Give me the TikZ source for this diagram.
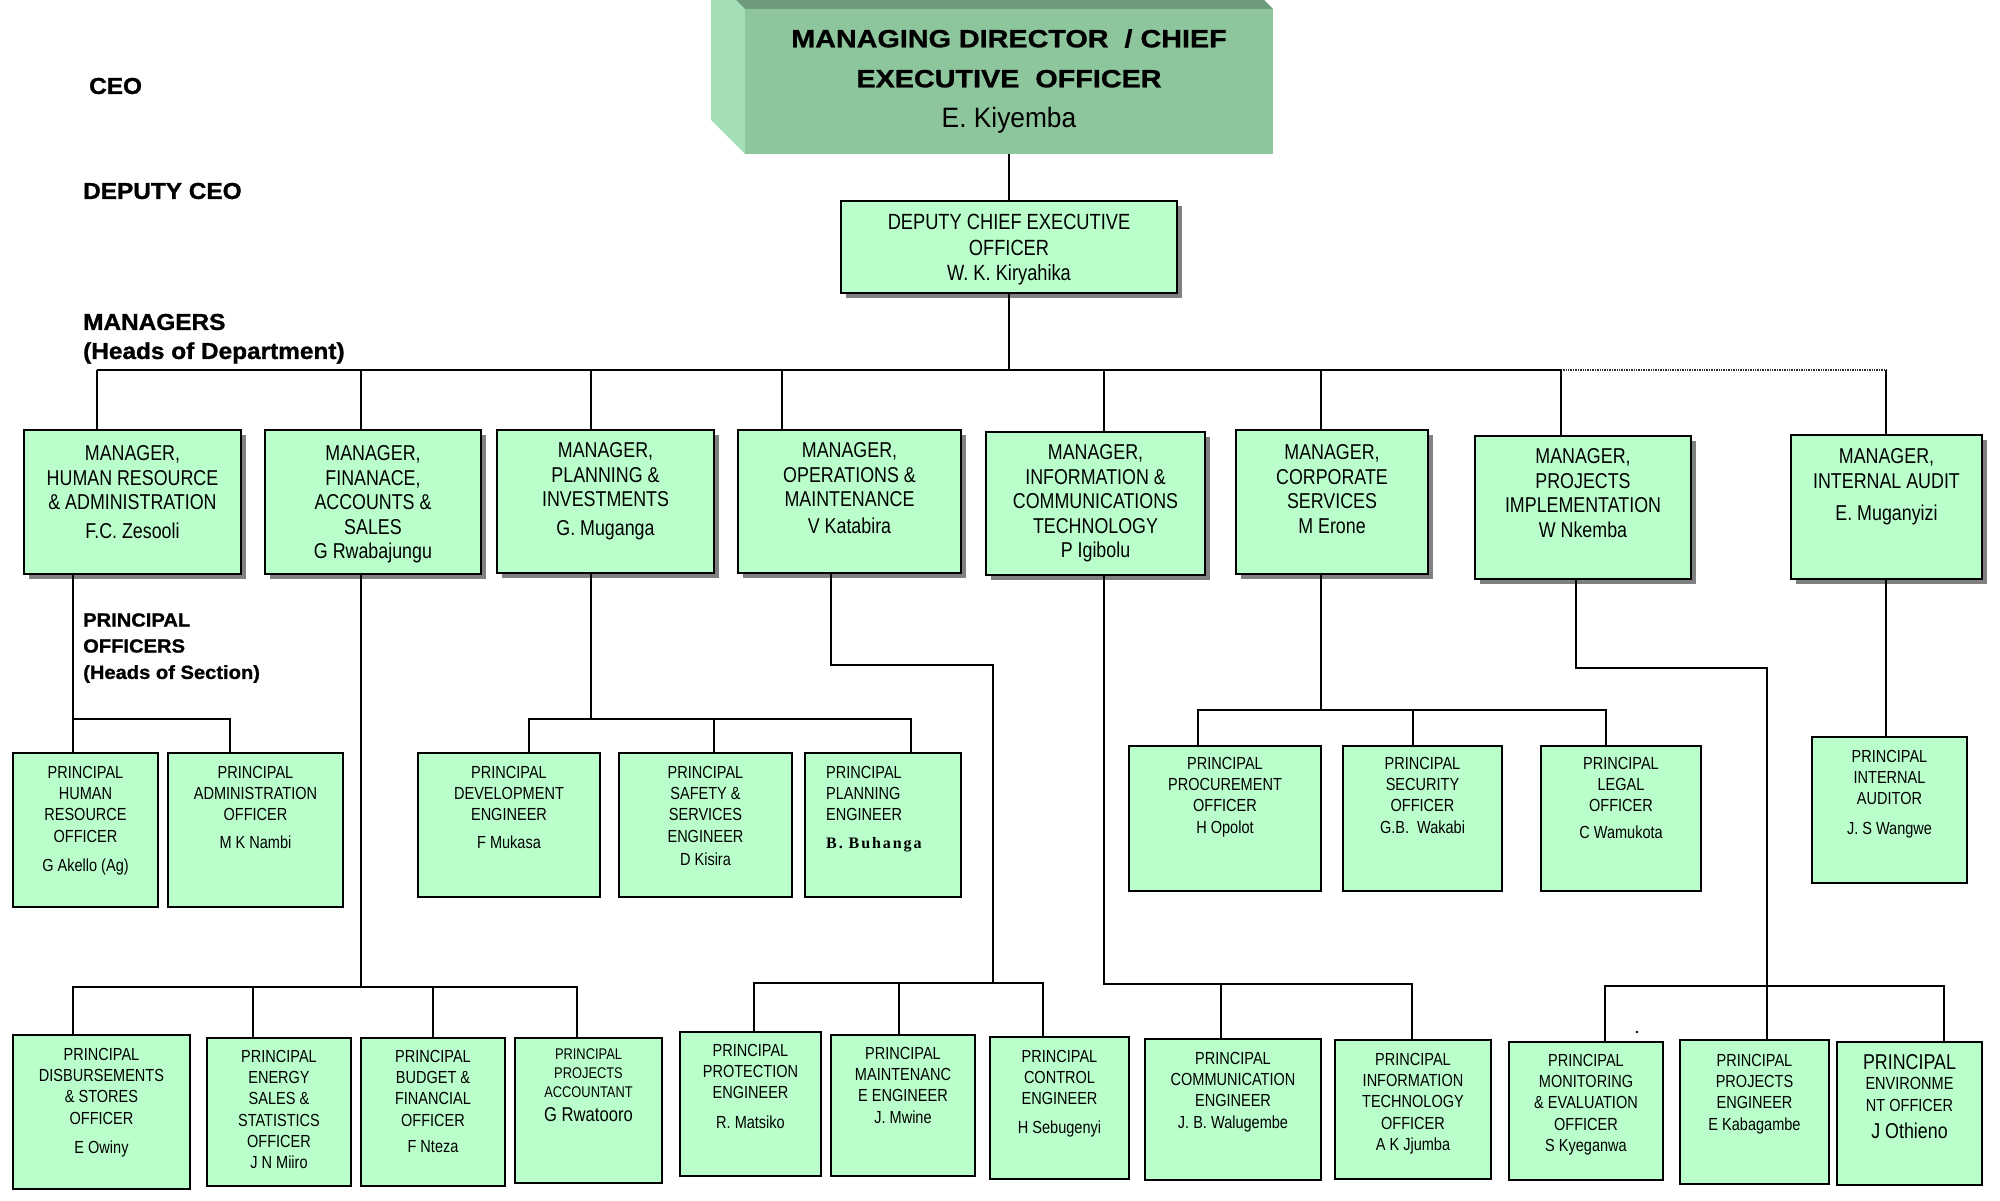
\documentclass[tikz,border=0pt]{standalone}
\usepackage{fontspec}
\setmainfont{Liberation Sans}[FakeStretch=0.83]
\newfontfamily\hdfont{Liberation Sans}[FakeStretch=1.06, BoldFeatures={FakeBold=1.2}]
\newfontfamily\mdfont{Liberation Sans}[FakeStretch=1.15, BoldFeatures={FakeBold=1.0}]
\newfontfamily\mdname{Liberation Sans}[FakeStretch=0.94]
\newfontfamily\tbf{Liberation Serif}[LetterSpace=12]
\usetikzlibrary{shadows}
\definecolor{boxg}{RGB}{186,255,203}
\definecolor{mdfront}{RGB}{141,197,156}
\definecolor{mdleft}{RGB}{164,222,180}
\definecolor{mdtop}{RGB}{110,155,123}
\newcommand\obox[6]{\node[#6, minimum width={#4-#2}, minimum height={#5-#3}] (#1) at ({(#2+#4)/2},{(#3+#5)/2}) {};}
\tikzset{
  mbox/.style={draw=black, line width=2.2pt, fill=boxg, inner sep=0pt,
    drop shadow={shadow xshift=5pt, shadow yshift=-5pt, fill=black!50, opacity=1}},
  pbox/.style={draw=black, line width=2pt, fill=boxg, inner sep=0pt},
  mt/.style={anchor=north, align=center, inner sep=0pt, font={\fontsize{21.5}{24.5}\selectfont}},
  pt/.style={anchor=north, align=center, inner sep=0pt, font={\fontsize{17.5}{21.3}\selectfont}},
  hd/.style={anchor=west, inner sep=0pt, font={\hdfont\bfseries\fontsize{23}{27}\selectfont}},
  hds/.style={anchor=west, inner sep=0pt, font={\hdfont\bfseries\fontsize{19}{22}\selectfont}},
  con/.style={line width=1.8pt},
  busline/.style={line width=2.4pt},
  dotbus/.style={line width=2.6pt, black!80, dash pattern=on 1pt off 0.7pt},
}
\begin{document}
\begin{tikzpicture}[x=1pt,y=-1pt]
\useasboundingbox (0,0) rectangle (2000,1200);

% ---- MD 3D box ----
\begin{scope}
\clip (0,0) rectangle (2000,1200);
\fill[mdleft] (745,9) -- (711,-25) -- (711,120) -- (745,154) -- cycle;
\fill[mdtop] (745,9) -- (711,-25) -- (1239,-25) -- (1273,9) -- cycle;
\end{scope}
\node[fill=mdfront, minimum width=528, minimum height=145, inner sep=0pt] (md) at (1009,81.5) {};
\node[anchor=north, align=center, inner sep=0pt, font={\mdfont\bfseries\fontsize{25}{40}\selectfont}] (mdt) at (1009,29)
  {MANAGING DIRECTOR~~/ CHIEF\\EXECUTIVE~~OFFICER\\{\mdname\mdseries\fontsize{28}{40}\selectfont E. Kiyemba}};

% ---- left headings ----
\node[hd] (l-ceo) at (89,86) {CEO};
\node[hd] (l-dceo) at (83,191) {DEPUTY CEO};
\node[hd] (l-man) at (83,322) {MANAGERS};
\node[hd] (l-mand) at (83,353) {(Heads of Department)};
\node[hds] (l-p1) at (83,620) {PRINCIPAL};
\node[hds] (l-p2) at (83,646) {OFFICERS};
\node[hds] (l-p3) at (83,674) {(Heads of Section)};

% ---- boxes ----
\obox{dceo}{841}{201}{1177}{293}{mbox}
\obox{hr}{24}{430}{241}{574}{mbox}
\obox{fin}{265}{430}{481}{574}{mbox}
\obox{plan}{497}{430}{714}{573}{mbox}
\obox{ops}{738}{430}{961}{573}{mbox}
\obox{ict}{986}{432}{1205}{575}{mbox}
\obox{corp}{1236}{430}{1428}{574}{mbox}
\obox{proj}{1475}{436}{1691}{579}{mbox}
\obox{aud}{1791}{435}{1982}{579}{mbox}

\obox{phr}{13}{753}{158}{907}{pbox}
\obox{padm}{168}{753}{343}{907}{pbox}
\obox{pdev}{418}{753}{600}{897}{pbox}
\obox{psaf}{619}{753}{792}{897}{pbox}
\obox{ppln}{805}{753}{961}{897}{pbox}
\obox{pproc}{1129}{746}{1321}{891}{pbox}
\obox{psec}{1343}{746}{1502}{891}{pbox}
\obox{plegal}{1541}{746}{1701}{891}{pbox}
\obox{paud}{1812}{737}{1967}{883}{pbox}

\obox{pdisb}{13}{1035}{190}{1189}{pbox}
\obox{pener}{207}{1038}{351}{1186}{pbox}
\obox{pbud}{361}{1038}{505}{1186}{pbox}
\obox{pacc}{515}{1038}{662}{1183}{pbox}
\obox{pprot}{680}{1032}{821}{1176}{pbox}
\obox{pmaint}{831}{1035}{975}{1176}{pbox}
\obox{pctrl}{990}{1037}{1129}{1179}{pbox}
\obox{pcomm}{1145}{1039}{1321}{1180}{pbox}
\obox{pit}{1335}{1040}{1491}{1179}{pbox}
\obox{pmon}{1509}{1042}{1663}{1180}{pbox}
\obox{ppeng}{1680}{1040}{1829}{1184}{pbox}
\obox{penv}{1837}{1042}{1982}{1185}{pbox}

% ---- texts ----
\node[anchor=north, align=center, inner sep=0pt, font={\fontsize{22}{25.5}\selectfont}] (dceo-t) at (1009,214)
  {DEPUTY CHIEF EXECUTIVE\\OFFICER\\W. K. Kiryahika};

\node[mt] (hr-t) at (132.5,445.3) {MANAGER,\\HUMAN RESOURCE\\\& ADMINISTRATION\\[4pt]F.C. Zesooli};
\node[mt] (fin-t) at (373,445.3) {MANAGER,\\FINANACE,\\ACCOUNTS \&\\SALES\\G Rwabajungu};
\node[mt] (plan-t) at (605.5,442.3) {MANAGER,\\PLANNING \&\\INVESTMENTS\\[4pt]G. Muganga};
\node[mt] (ops-t) at (849.5,442.3) {MANAGER,\\OPERATIONS \&\\MAINTENANCE\\[2pt]V Katabira};
\node[mt] (ict-t) at (1095.5,444.3) {MANAGER,\\INFORMATION \&\\COMMUNICATIONS\\TECHNOLOGY\\P Igibolu};
\node[mt] (corp-t) at (1332,444.3) {MANAGER,\\CORPORATE\\SERVICES\\M Erone};
\node[mt] (proj-t) at (1583,448.3) {MANAGER,\\PROJECTS\\IMPLEMENTATION\\W Nkemba};
\node[mt] (aud-t) at (1886.5,448.3) {MANAGER,\\INTERNAL AUDIT\\[8pt]E. Muganyizi};

\node[pt] (phr-t) at (85.5,765.7) {PRINCIPAL\\HUMAN\\RESOURCE\\OFFICER\\[8pt]G Akello (Ag)};
\node[pt] (padm-t) at (255.5,765.7) {PRINCIPAL\\ADMINISTRATION\\OFFICER\\[6pt]M K Nambi};
\node[pt] (pdev-t) at (509,765.7) {PRINCIPAL\\DEVELOPMENT\\ENGINEER\\[6pt]F Mukasa};
\node[pt] (psaf-t) at (705.5,765.7) {PRINCIPAL\\SAFETY \&\\SERVICES\\ENGINEER\\[2pt]D Kisira};
\node[pt, anchor=north west, align=left] (ppln-t) at (826,765.7) {PRINCIPAL\\PLANNING\\ENGINEER\\[6pt]{\tbf\bfseries\fontsize{16}{19}\selectfont B. Buhanga}};
\node[pt] (pproc-t) at (1225,756.7) {PRINCIPAL\\PROCUREMENT\\OFFICER\\H Opolot};
\node[pt] (psec-t) at (1422.5,756.7) {PRINCIPAL\\SECURITY\\OFFICER\\G.B.~~Wakabi};
\node[pt] (plegal-t) at (1621,756.7) {PRINCIPAL\\LEGAL\\OFFICER\\[5pt]C Wamukota};
\node[pt] (paud-t) at (1889.5,749.7) {PRINCIPAL\\INTERNAL\\AUDITOR\\[8pt]J. S Wangwe};

\node[pt] (pdisb-t) at (101.5,1047.7) {PRINCIPAL\\DISBURSEMENTS\\\& STORES\\OFFICER\\[8pt]E Owiny};
\node[pt] (pener-t) at (279,1049.7) {PRINCIPAL\\ENERGY\\SALES \&\\STATISTICS\\OFFICER\\J N Miiro};
\node[pt] (pbud-t) at (433,1049.7) {PRINCIPAL\\BUDGET \&\\FINANCIAL\\OFFICER\\[5pt]F Nteza};
\node[pt, font={\fontsize{15.5}{19}\selectfont}] (pacc-t) at (588.5,1048.5) {PRINCIPAL\\PROJECTS\\ACCOUNTANT};
\node[inner sep=0pt, font={\fontsize{20}{23}\selectfont}] (pacc-n) at (588.5,1115) {G Rwatooro};
\node[pt] (pprot-t) at (750.5,1043.7) {PRINCIPAL\\PROTECTION\\ENGINEER\\[8pt]R. Matsiko};
\node[pt] (pmaint-t) at (903,1046.7) {PRINCIPAL\\MAINTENANC\\E ENGINEER\\J. Mwine};
\node[pt] (pctrl-t) at (1059.5,1049.7) {PRINCIPAL\\CONTROL\\ENGINEER\\[7pt]H Sebugenyi};
\node[pt] (pcomm-t) at (1233,1051.7) {PRINCIPAL\\COMMUNICATION\\ENGINEER\\J. B. Walugembe};
\node[pt] (pit-t) at (1413,1052.7) {PRINCIPAL\\INFORMATION\\TECHNOLOGY\\OFFICER\\A K Jjumba};
\node[pt] (pmon-t) at (1586,1053.7) {PRINCIPAL\\MONITORING\\\& EVALUATION\\OFFICER\\S Kyeganwa};
\node[pt] (ppeng-t) at (1754.5,1053.7) {PRINCIPAL\\PROJECTS\\ENGINEER\\E Kabagambe};
\node[inner sep=0pt, font={\fontsize{21.5}{24}\selectfont}] (penv-a) at (1909.5,1062) {PRINCIPAL};
\node[pt, font={\fontsize{17.5}{22}\selectfont}] (penv-b) at (1909.5,1076.7) {ENVIRONME\\NT OFFICER};
\node[inner sep=0pt, font={\fontsize{21.5}{24}\selectfont}] (penv-c) at (1909.5,1131) {J Othieno};

% ---- connectors ----
\draw[con] (md.south) -- (dceo.north);
\coordinate (bus) at (1009,370);
\draw[con] (dceo.south) -- (bus);
\coordinate (bL) at (97,370);
\coordinate (bD) at (1561,370);
\coordinate (bR) at (1886,370);
\draw[busline] (bL) -- (bD);
\draw[dotbus] (bD) -- (bR);
\foreach \n/\x in {hr/97, fin/361, plan/591, ops/782, ict/1104, corp/1321, proj/1561, aud/1886} {
  \coordinate (t-\n) at (\x,370);
  \draw[con] (t-\n) -- (t-\n |- \n.north);
}

% HR
\coordinate (hrA) at (73,719);
\coordinate (hrB) at (230,719);
\draw[con] (hrA |- hr.south) -- (hrA |- phr.north);
\draw[con] (hrA) -- (hrB) -- (hrB |- padm.north);

% Finance
\coordinate (fA) at (361,987);
\coordinate (fL) at (73,987);
\coordinate (fE) at (253,987);
\coordinate (fB) at (433,987);
\coordinate (fR) at (577,987);
\draw[con] (fA |- fin.south) -- (fA);
\draw[con] (fL |- pdisb.north) -- (fL) -- (fR) -- (fR |- pacc.north);
\draw[con] (fE) -- (fE |- pener.north);
\draw[con] (fB) -- (fB |- pbud.north);

% Planning
\coordinate (pA) at (591,719);
\coordinate (pL) at (529,719);
\coordinate (pM) at (714,719);
\coordinate (pR) at (911,719);
\draw[con] (pA |- plan.south) -- (pA);
\draw[con] (pL |- pdev.north) -- (pL) -- (pR) -- (pR |- ppln.north);
\draw[con] (pM) -- (pM |- psaf.north);

% Operations
\coordinate (oA) at (831,665);
\coordinate (oB) at (993,665);
\coordinate (oC) at (993,983);
\coordinate (oL) at (754,983);
\coordinate (oM) at (899,983);
\coordinate (oR) at (1043,983);
\draw[con] (oA |- ops.south) -- (oA) -- (oB) -- (oC);
\draw[con] (oL |- pprot.north) -- (oL) -- (oR) -- (oR |- pctrl.north);
\draw[con] (oM) -- (oM |- pmaint.north);

% ICT
\coordinate (iA) at (1104,984);
\coordinate (iM) at (1221,984);
\coordinate (iR) at (1412,984);
\draw[con] (iA |- ict.south) -- (iA) -- (iR) -- (iR |- pit.north);
\draw[con] (iM) -- (iM |- pcomm.north);

% Corporate
\coordinate (cA) at (1321,710);
\coordinate (cL) at (1198,710);
\coordinate (cM) at (1413,710);
\coordinate (cR) at (1606,710);
\draw[con] (cA |- corp.south) -- (cA);
\draw[con] (cL |- pproc.north) -- (cL) -- (cR) -- (cR |- plegal.north);
\draw[con] (cM) -- (cM |- psec.north);

% Projects
\coordinate (jA) at (1576,668);
\coordinate (jB) at (1767,668);
\coordinate (jL) at (1605,986);
\coordinate (jR) at (1944,986);
\draw[con] (jA |- proj.south) -- (jA) -- (jB) -- (jB |- ppeng.north);
\draw[con] (jL |- pmon.north) -- (jL) -- (jR) -- (jR |- penv.north);

% Audit
\draw[con] (t-aud |- aud.south) -- (t-aud |- paud.north);

\fill (1637,1032) circle (1.3);
\end{tikzpicture}
\end{document}
